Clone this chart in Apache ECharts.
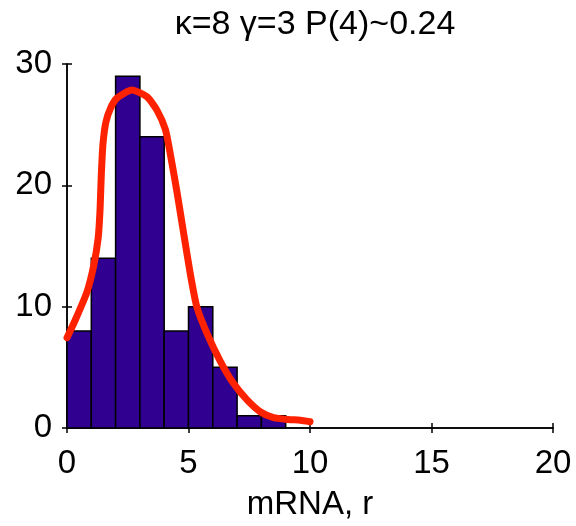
<!DOCTYPE html>
<html><head><meta charset="utf-8">
<script src="https://cdn.jsdelivr.net/npm/echarts@6/dist/echarts.min.js"></script>
<style>html,body{margin:0;padding:0;background:#fff}#c{width:576px;height:526px}</style>
</head><body><div id="c"></div>
<script>
const titleText = "κ=8 γ=3 P(4)~0.24";
const xName = "mRNA, r";
const binStarts = [0, 1, 2, 3, 4, 5, 6, 7, 8];
const binCounts = [8, 14, 29, 24, 8, 10, 5, 1, 1];
const binWidth = 1;
const curveX = [0, 0.34, 0.82, 1.10, 1.28, 1.36, 1.41, 1.48, 1.60, 1.80, 2.06, 2.67, 3.29, 3.70, 4.05, 4.25, 4.53, 4.80, 5.07, 5.34, 5.76, 6.31, 6.85, 7.41, 7.95, 8.50, 9.1, 9.6, 10.0];
const curveY = [7.44, 8.9, 11.2, 13.4, 15.6, 18.0, 20.8, 23.4, 25.2, 26.4, 27.2, 27.86, 27.3, 26.2, 24.6, 22.6, 19.4, 16.05, 12.75, 10.0, 7.8, 5.5, 3.68, 2.31, 1.34, 0.85, 0.7, 0.64, 0.52];
const xTicks = [0, 5, 10, 15, 20];
const yTicks = [0, 10, 20, 30];

const font = "'Liberation Sans', Arial, Helvetica, sans-serif";
const chart = echarts.init(document.getElementById('c'));
const axisLine = {show: true, lineStyle: {color: '#000', width: 1.5}};
const axisTick = {show: true, inside: true, length: 5, lineStyle: {color: '#000', width: 1.5}};
chart.setOption({
  animation: false,
  title: {text: titleText, left: 310, textAlign: 'center', top: 3,
    textStyle: {fontFamily: font, fontSize: 34, fontWeight: 'normal', color: '#000'}},
  grid: {left: 67, right: 23, top: 64, bottom: 98},
  xAxis: [
    {type: 'value', min: xTicks[0], max: xTicks[xTicks.length-1], interval: 5,
     axisLine, axisTick, splitLine: {show: false},
     axisLabel: {margin: 19, fontFamily: font, fontSize: 33, color: '#000'},
     name: xName, nameLocation: 'middle', nameGap: 60,
     nameTextStyle: {fontFamily: font, fontSize: 33, color: '#000'}},
    {type: 'value', position: 'top', min: 0, max: 20, interval: 5,
     axisLine, axisTick, axisLabel: {show: false}, splitLine: {show: false}}
  ],
  yAxis: [
    {type: 'value', min: yTicks[0], max: yTicks[yTicks.length-1], interval: 10,
     axisLine, axisTick, splitLine: {show: false},
     axisLabel: {margin: 15, fontFamily: font, fontSize: 33, color: '#000'}},
    {type: 'value', position: 'right', min: 0, max: 30, interval: 10,
     axisLine, axisTick, axisLabel: {show: false}, splitLine: {show: false}}
  ],
  series: [
    {type: 'custom', xAxisIndex: 0, yAxisIndex: 0,
     data: binStarts.map((s, i) => [s, s + binWidth, binCounts[i]]),
     renderItem: function (params, api) {
       const p0 = api.coord([api.value(0), 0]);
       const p1 = api.coord([api.value(1), api.value(2)]);
       return {type: 'rect',
         shape: {x: p0[0], y: p1[1], width: p1[0] - p0[0], height: p0[1] - p1[1]},
         style: {fill: '#300090', stroke: '#000', lineWidth: 1.5}};
     }},
    {type: 'line', xAxisIndex: 0, yAxisIndex: 0, smooth: 0.2, symbol: 'none',
     data: curveX.map((x, i) => [x, curveY[i]]),
     lineStyle: {color: '#FF2200', width: 7, cap: 'round', join: 'round'}}
  ]
});
</script></body></html>
